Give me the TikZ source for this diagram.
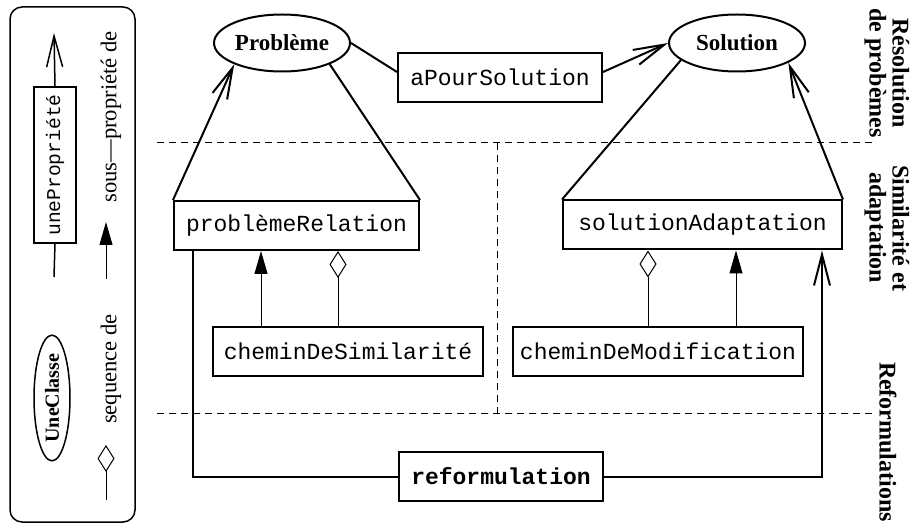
\documentclass[tikz,border=0pt]{standalone}
\usepackage{fontspec}
\setmainfont{Liberation Serif}
\setmonofont{Liberation Mono}
\usepackage{tikz}
\usetikzlibrary{shapes.geometric, arrows.meta, positioning, calc}

\begin{document}
\begin{tikzpicture}[
    x=0.5pt, y=-0.5pt,
    every node/.style={font=\fontsize{11.5}{13}\selectfont},
    classe/.style={ellipse, draw, line width=1pt, inner sep=0pt, minimum width=68pt, minimum height=28.5pt, font=\fontsize{11.5}{13}\selectfont\bfseries},
    propriete/.style={rectangle, draw, line width=1pt, inner sep=0pt, minimum height=24.5pt, font=\fontsize{11.5}{13}\selectfont\ttfamily},
    lien/.style={line width=1pt},
    fleche/.style={line width=1pt, -{Straight Barb[length=15.5pt, width=8pt]}},
    sousprop/.style={line width=0.5pt, -{Triangle[length=11.5pt, width=6.5pt]}},
    seqde/.style={line width=0.5pt, -{Diamond[open, length=13.5pt, width=8.5pt]}},
    separateur/.style={line width=0.5pt, dash pattern=on 3.5pt off 2.5pt},
    niveau/.style={rotate=-90, align=center, inner sep=1pt, font=\fontsize{12}{11.5}\selectfont\bfseries},
    legende/.style={rotate=90, font=\fontsize{11.3}{12}\selectfont}
]
    \useasboundingbox (0,0) rectangle (911,529);

    % Legende
    \draw[line width=0.75pt, rounded corners=6pt] (10,7) rectangle (135,522);
    \node[propriete, rotate=90, line width=0.75pt, minimum width=78pt, minimum height=21pt, font=\fontsize{9.8}{10}\selectfont\ttfamily] (uneprop) at (55,165) {unePropriété};
    \coordinate (propbas) at (54,277);
    \coordinate (prophaut) at (54,33);
    \draw[line width=0.75pt] (propbas) -- (uneprop.west);
    \draw[fleche, line width=0.75pt] (uneprop.east) -- (prophaut);
    \node[legende] (soustxt) at (111,117) {sous—propriété de};
    \coordinate (sousbas) at (106,279);
    \coordinate (soushaut) at (106,222);
    \draw[sousprop] (sousbas) -- (soushaut);
    \node[classe, rotate=90, line width=0.75pt, minimum width=60pt, minimum height=18pt, font=\fontsize{10}{11}\selectfont\bfseries] (uneclasse) at (52,398) {UneClasse};
    \node[legende] (seqtxt) at (111,369) {sequence de};
    \coordinate (seqbas) at (106,500);
    \coordinate (seqhaut) at (106,445);
    \draw[seqde] (seqbas) -- (seqhaut);

    % Separateurs des niveaux
    \draw[separateur] (157,143) -- (873,143);
    \draw[separateur] (157,414) -- (873,414);
    \draw[separateur] (497,143) -- (497,414);

    % Classes et proprietes
    \node[classe] (probleme) at (282,43) {Problème};
    \node[classe] (solution) at (737,43) {Solution};
    \node[propriete, minimum width=102pt] (apoursol) at (500,77.5) {aPourSolution};
    \node[propriete, minimum width=122.5pt] (problemerel) at (296.5,225.5) {problèmeRelation};
    \node[propriete, minimum width=139.5pt] (soladapt) at (702.5,225) {solutionAdaptation};
    \node[propriete, minimum width=135pt] (cheminsim) at (348,351.5) {cheminDeSimilarité};
    \node[propriete, minimum width=145pt] (cheminmod) at (658,351.5) {cheminDeModification};
    \node[propriete, minimum width=102pt, font=\fontsize{11.5}{13}\selectfont\ttfamily\bfseries] (reform) at (501,476.5) {reformulation};

    % Liens
    \draw[lien] (probleme.east) -- ([yshift=2.75pt]apoursol.west);
    \draw[fleche] ([yshift=2.75pt]apoursol.east) -- (solution.west);
    \draw[fleche] (problemerel.north west) -- (probleme.204);
    \draw[lien] (problemerel.north east) -- (probleme.336);
    \draw[lien] (soladapt.north west) -- (solution.197);
    \draw[fleche] (soladapt.north east) -- (solution.339);

    % Sous-proprietes et sequences
    \draw[sousprop] ([xshift=-43.5pt]cheminsim.north) -- ([xshift=-43.5pt]cheminsim.north |- problemerel.south);
    \draw[seqde] ([xshift=-5pt]cheminsim.north) -- ([xshift=-5pt]cheminsim.north |- problemerel.south);
    \draw[seqde] ([xshift=-5pt]cheminmod.north) -- ([xshift=-5pt]cheminmod.north |- soladapt.south);
    \draw[sousprop] ([xshift=39pt]cheminmod.north) -- ([xshift=39pt]cheminmod.north |- soladapt.south);

    % Reformulation
    \draw[lien] ([xshift=-51.75pt]problemerel.south) |- (reform.west);
    \draw[fleche] (reform.east) -| ([xshift=59.75pt]soladapt.south);

    % Niveaux
    \node[niveau] (resolution) at (887,73) {Résolution\\de probèmes};
    \node[niveau] (similarite) at (887,228) {Similarité et\\adaptation};
    \node[niveau] (reformulations) at (888,442) {Reformulations};
\end{tikzpicture}
\end{document}
